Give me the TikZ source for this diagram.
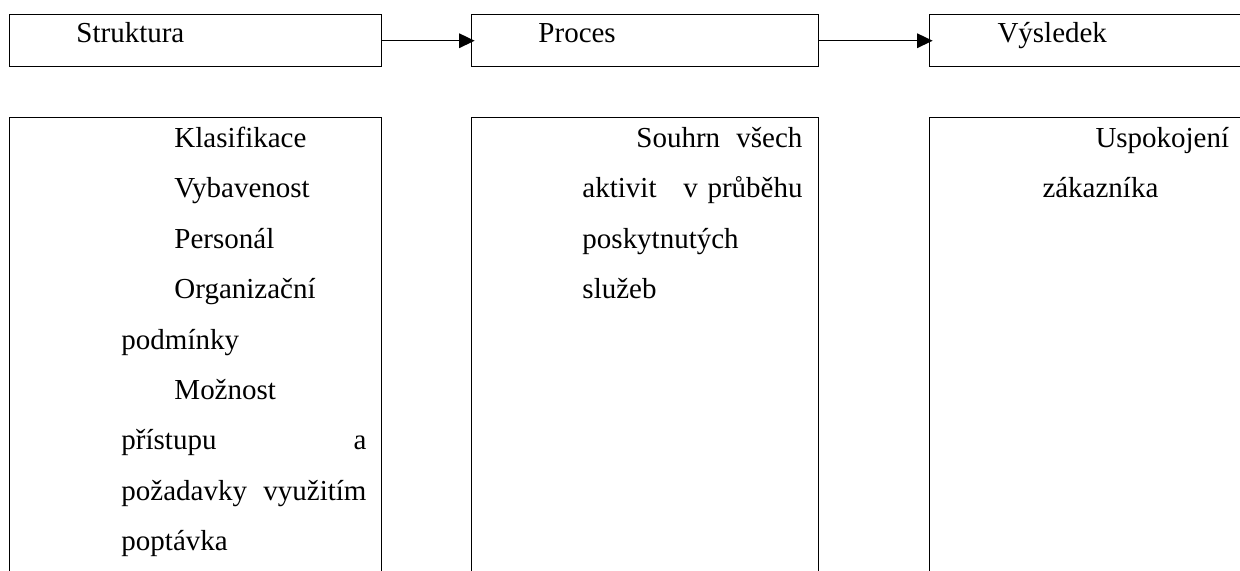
\documentclass[tikz,border=0pt]{standalone}
\usepackage{fontspec}
\setmainfont{Liberation Serif}
\usetikzlibrary{positioning,arrows.meta}
\newlength\px
\setlength\px{0.414pt}
\newcommand\fullline[1]{\leavevmode\hbox to\hsize{#1}}

\begin{document}
\begin{tikzpicture}[x=1\px, y=-1\px]
        \tikzstyle{stagebox}=[rectangle, draw, line width=0.6pt, anchor=north west, inner sep=0, minimum height=52\px];
        \tikzstyle{detailbox}=[rectangle, draw, line width=0.6pt, anchor=north west, inner sep=0, minimum height=480\px];
        \tikzstyle{stagetext}=[anchor=base west, inner sep=0, font=\fontsize{12pt}{14pt}\selectfont];
        \tikzstyle{detailtext}=[anchor=north west, inner sep=0, align=left, yshift=10pt, font=\fontsize{12pt}{50.4\px}\selectfont];
        \tikzstyle{flow}=[-{Triangle[length=6.4pt, width=6pt]}, line width=0.6pt, shorten >=-1.5pt];

        \useasboundingbox (0,0) rectangle (1240,570);

        \node [stagebox, minimum width=372\px] (S) at (9,14) {};
        \node [stagebox, minimum width=347\px] (P) at (471,14) {};
        \node [stagebox, minimum width=340\px] (V) at (929,14) {};

        \node [stagetext] (St) at (76,42) {Struktura};
        \node [stagetext] (Pt) at (538,42) {Proces};
        \node [stagetext] (Vt) at (997,42) {Výsledek};

        \draw [flow] (S.east) -- (P.west);
        \draw [flow] (P.east) -- (V.west);

        \node [detailbox, minimum width=372\px] (A) at (9,117) {};
        \node [detailbox, minimum width=347\px] (B) at (471,117) {};
        \node [detailbox, minimum width=340\px] (C) at (929,117) {};

        \node [detailtext, text width=245\px] (At) at (121,147) {\rule{0pt}{10pt}\hspace*{53\px}Klasifikace\\
            \hspace*{53\px}Vybavenost\\
            \hspace*{53\px}Personál\\
            \hspace*{53\px}Organizační\\
            podmínky\\
            \hspace*{53\px}Možnost\\
            \fullline{přístupu\hfill a}\\
            \fullline{požadavky\hfill využitím}\\
            poptávka};
        \node [detailtext, text width=220\px] (Bt) at (582,147) {\fullline{\rule{0pt}{10pt}\hspace*{54\px}Souhrn\hfill všech}\\
            \fullline{aktivit\hfill v průběhu}\\
            poskytnutých\\
            služeb};
        \node [detailtext, text width=200\px] (Ct) at (1042,147) {\rule{0pt}{10pt}\hspace*{53\px}Uspokojení\\
            zákazníka};
    \end{tikzpicture}
\end{document}
